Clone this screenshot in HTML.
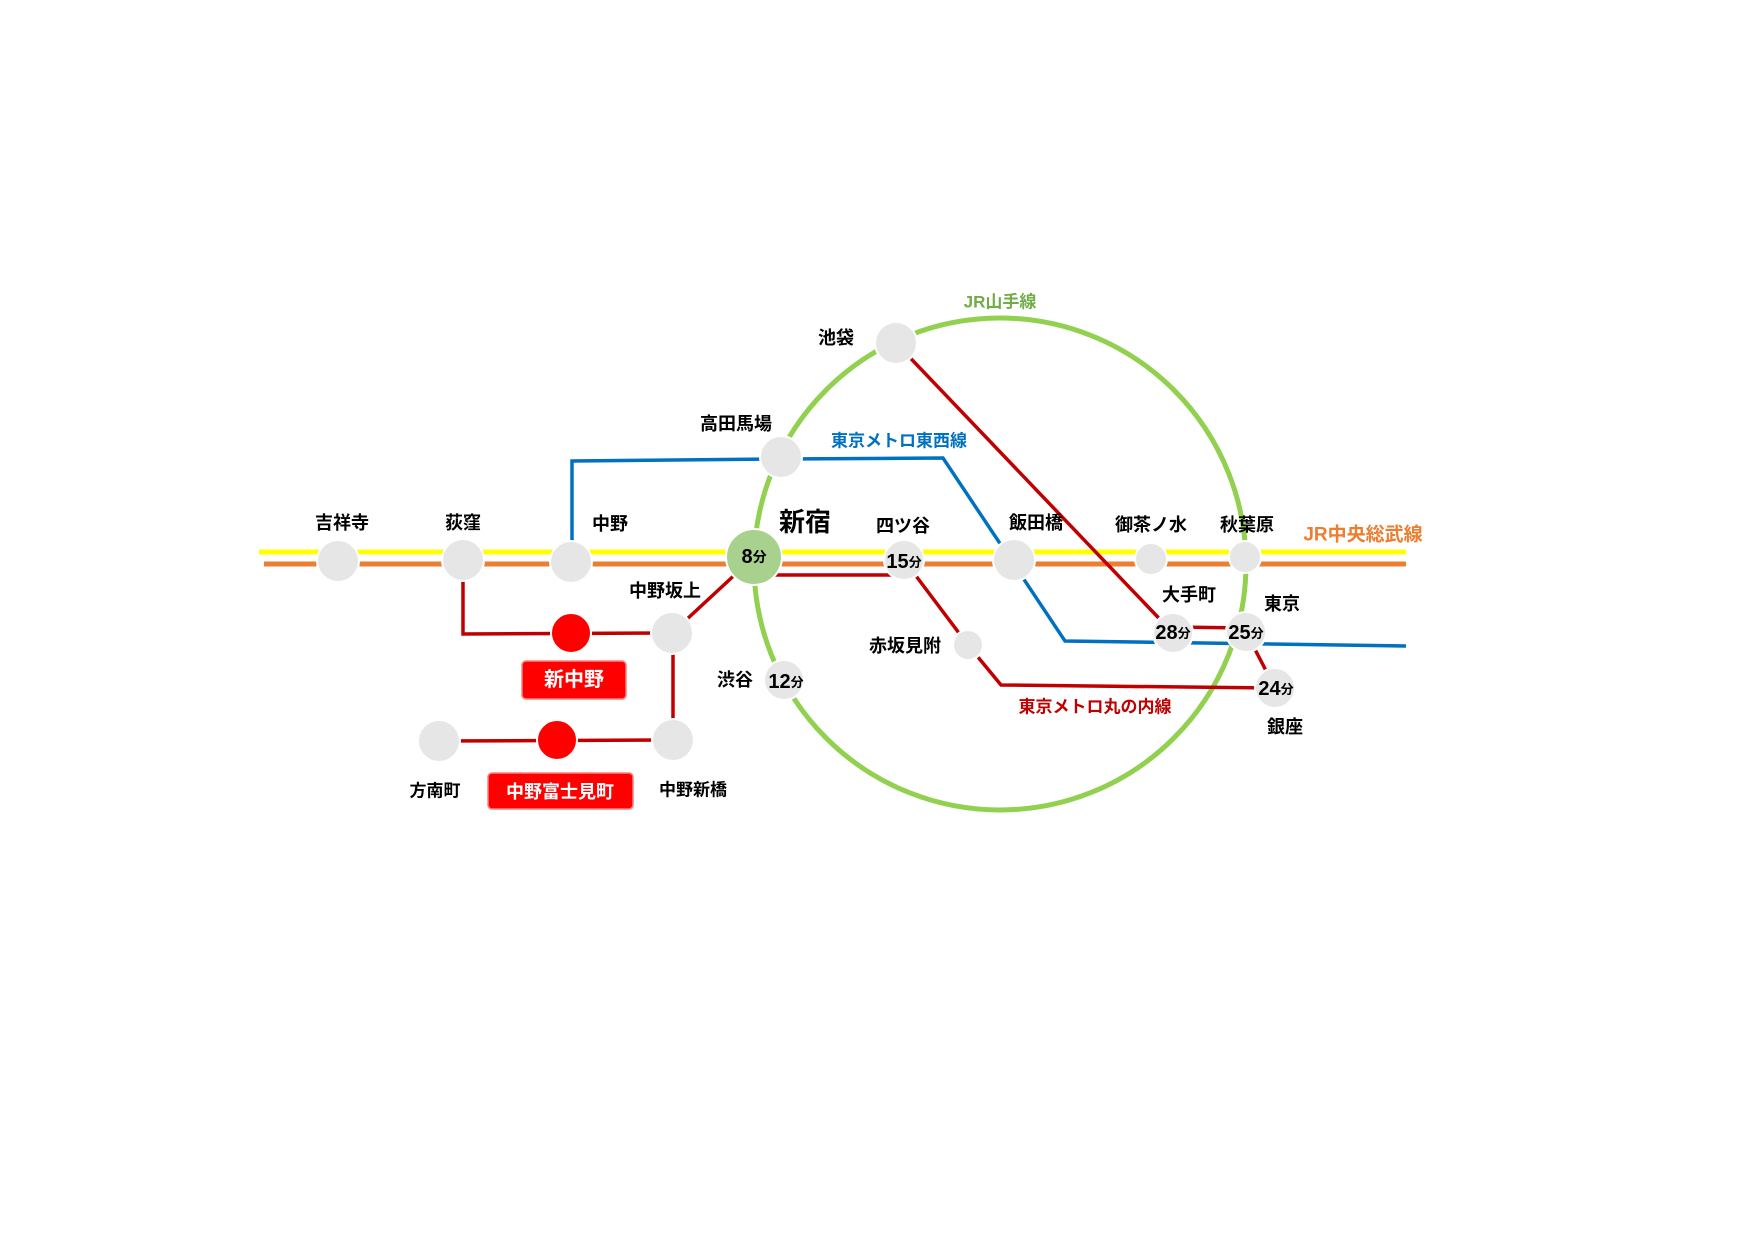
<!DOCTYPE html>
<html><head><meta charset="utf-8"><style>
html,body{margin:0;padding:0;background:#fff}
svg text{font-family:"Liberation Sans","Noto Sans CJK JP",sans-serif;font-weight:bold;text-anchor:middle;dominant-baseline:central}
</style></head><body>
<svg width="1755" height="1241" viewBox="0 0 1755 1241" xmlns="http://www.w3.org/2000/svg">
<rect width="1755" height="1241" fill="#fff"/>
<circle cx="1000" cy="564" r="246" fill="none" stroke="#92d050" stroke-width="5"/>
<line x1="259" y1="552" x2="1406" y2="552" stroke="#ffff00" stroke-width="5"/>
<line x1="264" y1="564" x2="1406" y2="564" stroke="#ed7d31" stroke-width="5"/>
<polyline points="572,552 572,461 781,459 943,458 1065,641 1406,646" fill="none" stroke="#0070c0" stroke-width="3.5"/>
<g fill="none" stroke="#c00000" stroke-width="3.5">
<line x1="896" y1="343" x2="1173" y2="633"/>
<line x1="1173" y1="627" x2="1246" y2="628"/>
<line x1="1246" y1="632" x2="1275" y2="688"/>
<polyline points="1275,688 1001,685 968,645 904,560"/>
<line x1="904" y1="575" x2="754" y2="575"/>
<line x1="754" y1="557" x2="672" y2="633"/>
<polyline points="672,633 463,634 463,560"/>
<line x1="673" y1="633" x2="673" y2="740"/>
<line x1="673" y1="740" x2="439" y2="741"/>
</g>
<g fill="#e6e6e6" stroke="#fff" stroke-width="2">
<circle cx="338" cy="561" r="21"/><circle cx="463" cy="560" r="21"/><circle cx="571" cy="562" r="21"/>
<circle cx="904" cy="560" r="20"/><circle cx="1014" cy="560" r="21"/><circle cx="1151" cy="559" r="16"/>
<circle cx="1245" cy="557" r="16"/><circle cx="896" cy="343" r="21"/><circle cx="781" cy="457" r="21"/>
<circle cx="672" cy="633" r="21"/><circle cx="439" cy="741" r="21"/><circle cx="673" cy="740" r="21"/>
<circle cx="784" cy="680" r="20"/><circle cx="968" cy="645" r="15"/><circle cx="1173" cy="633" r="20"/>
<circle cx="1246" cy="632" r="20"/><circle cx="1275" cy="688" r="20"/>
</g>
<circle cx="754" cy="557" r="28" fill="#a9d18e" stroke="#fff" stroke-width="2"/>
<circle cx="571" cy="633" r="20" fill="#ff0000" stroke="#fff" stroke-width="2"/>
<circle cx="557" cy="740" r="20" fill="#ff0000" stroke="#fff" stroke-width="2"/>
<rect x="522" y="661" width="104" height="38" rx="4" fill="#ff0000" stroke="#ff8080" stroke-width="1.5"/>
<rect x="488" y="773" width="145" height="36" rx="4" fill="#ff0000" stroke="#ff8080" stroke-width="1.5"/>
<g font-size="18" fill="#000">
<text x="836" y="338">池袋</text><text x="736" y="424">高田馬場</text><text x="342" y="523">吉祥寺</text>
<text x="463" y="523">荻窪</text><text x="610" y="524">中野</text><text x="903" y="526">四ツ谷</text>
<text x="1036" y="523">飯田橋</text><text x="1151" y="525">御茶ノ水</text><text x="1247" y="525">秋葉原</text>
<text x="665" y="591">中野坂上</text><text x="1189" y="595">大手町</text><text x="1282" y="604">東京</text>
<text x="905" y="646">赤坂見附</text><text x="735" y="680">渋谷</text><text x="1285" y="727">銀座</text>
<text x="435" y="791" font-size="17">方南町</text><text x="693" y="790" font-size="17">中野新橋</text>
</g>
<text x="805" y="522" font-size="26">新宿</text>
<text x="1000" y="302" font-size="17" fill="#70ad47">JR山手線</text>
<text x="899" y="441" font-size="17" fill="#0070c0">東京メトロ東西線</text>
<text x="1363" y="535" font-size="19" fill="#ed7d31">JR中央総武線</text>
<text x="1095" y="707" font-size="17" fill="#c00000">東京メトロ丸の内線</text>
<text x="574" y="680" font-size="20" fill="#fff">新中野</text>
<text x="560" y="792" font-size="18" fill="#fff">中野富士見町</text>
<g font-size="20" fill="#000">
<text x="754" y="557">8<tspan font-size="14">分</tspan></text>
<text x="904" y="562">15<tspan font-size="13">分</tspan></text>
<text x="786" y="682">12<tspan font-size="13">分</tspan></text>
<text x="1173" y="633">28<tspan font-size="13">分</tspan></text>
<text x="1246" y="633">25<tspan font-size="13">分</tspan></text>
<text x="1276" y="689">24<tspan font-size="13">分</tspan></text>
</g>
</svg>
</body></html>
